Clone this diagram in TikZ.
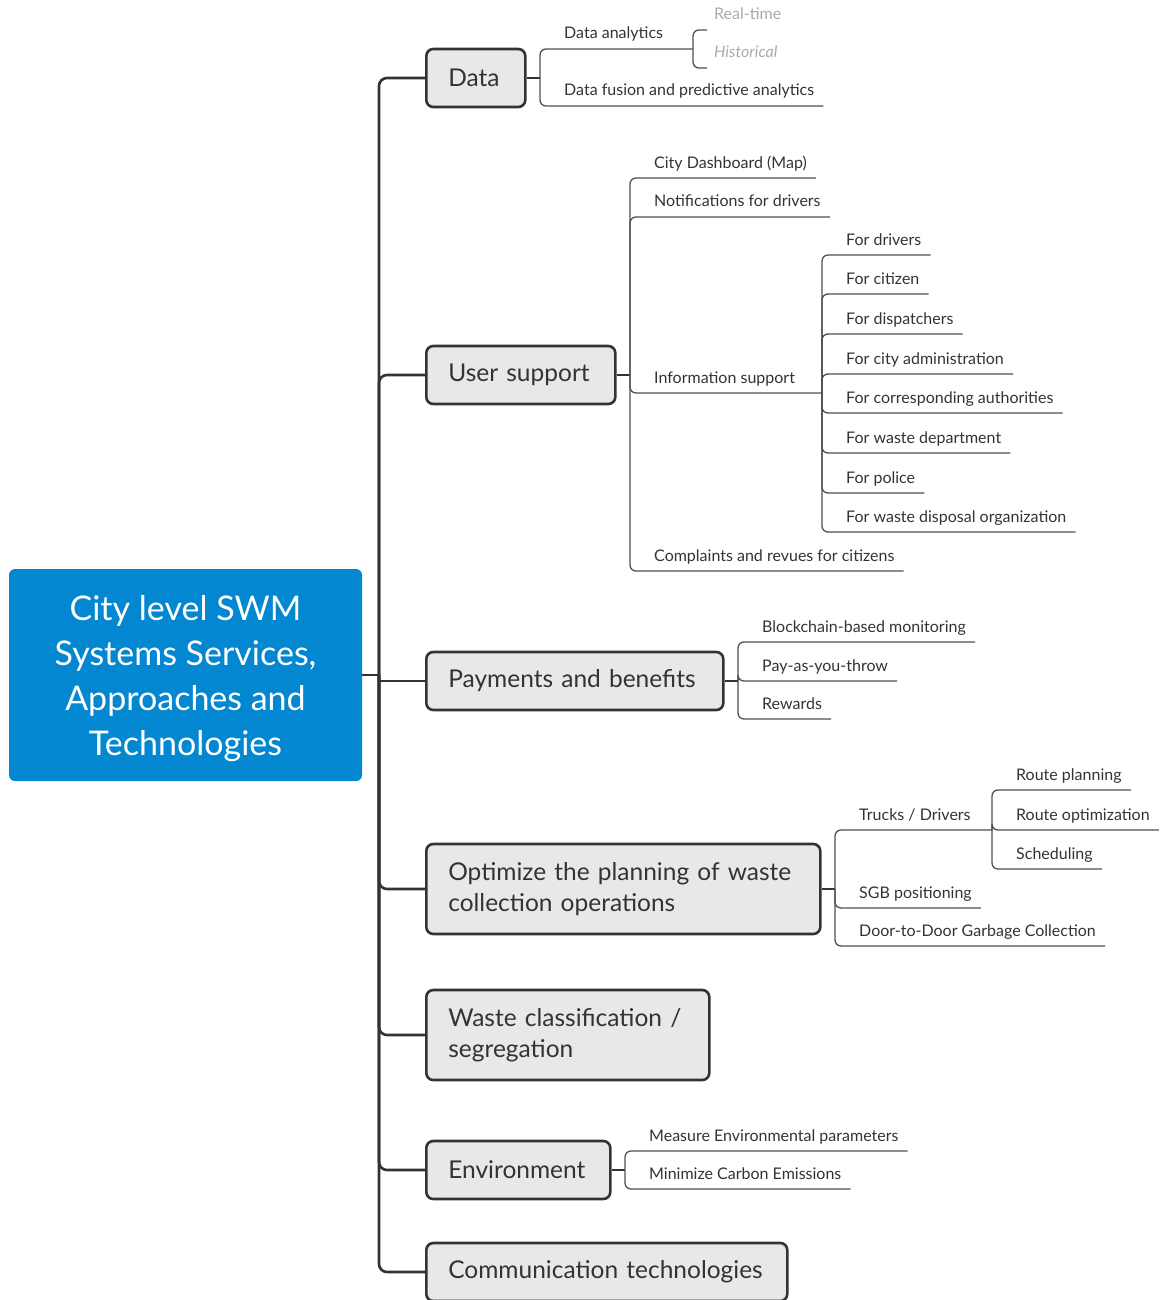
\documentclass[tikz,border=0pt]{standalone}
\usepackage{fontspec}
\setmainfont{Lato}
\usetikzlibrary{calc}
\definecolor{rootblue}{RGB}{3,135,209}
\definecolor{boxgray}{RGB}{232,232,232}
\definecolor{edge}{RGB}{51,51,51}
\definecolor{leafline}{RGB}{80,80,80}
\definecolor{txt}{RGB}{51,51,51}
\definecolor{ghost}{RGB}{170,170,170}
\begin{document}
\begin{tikzpicture}[x=1pt,y=-1pt,
 rootbox/.style={fill=rootblue, rounded corners=6pt, minimum width=353pt, minimum height=212pt, inner sep=0pt},
 roottext/.style={text=white, align=center, font=\fontsize{34}{45}\selectfont, inner sep=0pt},
 mainbox/.style={draw=edge, line width=2.6pt, fill=boxgray, rounded corners=7pt, anchor=west,
   text=txt, font=\fontsize{24.5}{31}\selectfont, inner xsep=22pt, align=left, minimum height=58pt},
 leaf/.style={anchor=base west, inner sep=0pt, text=txt, font=\fontsize{16}{18}\selectfont},
 ghostleaf/.style={leaf, text=ghost},
 trunk/.style={draw=edge, line width=2.6pt, rounded corners=8pt},
 stub/.style={draw=edge, line width=1.8pt},
 twig/.style={draw=leafline, line width=1.3pt, rounded corners=6pt},
]
\useasboundingbox (0,0) rectangle (1162,1300);

% root
\node[rootbox] (root) at (185.5,675) {};
\node[roottext] (rootlabel) at (185.5,679) {City level SWM\\Systems Services,\\Approaches and\\Technologies};
\coordinate (hub) at (379,675);
\draw[trunk] (root.east) -- (hub);

% main topics
\node[mainbox, text width=55pt] (data) at (425,78) {Data};
\node[mainbox, text width=145pt] (user) at (425,375) {User support};
\node[mainbox, text width=253pt] (pay) at (425,681) {Payments and benefits};
\node[mainbox, text width=350pt, minimum height=90pt] (opt) at (425,889) {Optimize the planning of waste\\collection operations};
\node[mainbox, text width=239pt, minimum height=90pt] (waste) at (425,1035) {Waste classification /\\segregation};
\node[mainbox, text width=140pt] (env) at (425,1170) {Environment};
\node[mainbox, text width=317pt] (comm) at (425,1272) {Communication technologies};

\foreach \n in {data,user,opt,waste,env,comm} \draw[trunk] (hub) |- (\n.west);
\draw[trunk, sharp corners] (hub) |- (pay.west);

% Data
\coordinate (data-b) at (540,78);
\draw[stub] (data.east) -- (data-b);
\node[leaf] (da) at (564,39) {Data analytics};
\coordinate (da-j) at (693,49);
\draw[twig] (data-b) |- (da-j);
\node[ghostleaf] (rt) at (714,20) {Real-time};
\node[ghostleaf, font=\fontsize{16}{18}\selectfont\itshape] (hist) at (714,58) {Historical};
\draw[twig] (da-j) |- ($(rt.base west)+(-7pt,-10pt)$);
\draw[twig] (da-j) |- ($(hist.base west)+(-7pt,-10pt)$);
\node[leaf] (dfa) at (564,96) {Data fusion and predictive analytics};
\draw[twig] (data-b) |- ($(dfa.base east)+(9pt,-10pt)$);

% User support
\coordinate (user-b) at (630,375);
\draw[stub] (user.east) -- (user-b);
\node[leaf] (cd) at (654,168) {City Dashboard (Map)};
\node[leaf] (nd) at (654,207) {Notifications for drivers};
\node[leaf] (is) at (654,383) {Information support};
\node[leaf] (cr) at (654,561) {Complaints and revues for citizens};
\coordinate (is-j) at (822,393);
\foreach \n in {cd,nd,cr} \draw[twig] (user-b) |- ($(\n.base east)+(9pt,-10pt)$);
\draw[twig] (user-b) |- (is-j);

\node[leaf] (i1) at (846,245) {For drivers};
\node[leaf] (i2) at (846,284) {For citizen};
\node[leaf] (i3) at (846,324) {For dispatchers};
\node[leaf] (i4) at (846,364) {For city administration};
\node[leaf] (i5) at (846,403) {For corresponding authorities};
\node[leaf] (i6) at (846,443) {For waste department};
\node[leaf] (i7) at (846,483) {For police};
\node[leaf] (i8) at (846,522) {For waste disposal organization};
\foreach \n in {i1,i2,i3,i4,i5,i6,i7,i8} \draw[twig] (is-j) |- ($(\n.base east)+(9pt,-10pt)$);

% Payments
\coordinate (pay-b) at (738,681);
\draw[stub] (pay.east) -- (pay-b);
\node[leaf] (p1) at (762,632) {Blockchain-based monitoring};
\node[leaf] (p2) at (762,671) {Pay-as-you-throw};
\node[leaf] (p3) at (762,709) {Rewards};
\foreach \n in {p1,p2,p3} \draw[twig] (pay-b) |- ($(\n.base east)+(9pt,-10pt)$);

% Optimize
\coordinate (opt-b) at (835,889);
\draw[stub] (opt.east) -- (opt-b);
\node[leaf] (td) at (859,820) {Trucks / Drivers};
\coordinate (td-j) at (992,830);
\draw[twig] (opt-b) |- (td-j);
\node[leaf] (sgb) at (859,898) {SGB positioning};
\node[leaf] (d2d) at (859,936) {Door-to-Door Garbage Collection};
\foreach \n in {sgb,d2d} \draw[twig] (opt-b) |- ($(\n.base east)+(9pt,-10pt)$);
\node[leaf] (rp) at (1016,780) {Route planning};
\node[leaf] (ro) at (1016,820) {Route optimization};
\node[leaf] (sc) at (1016,859) {Scheduling};
\foreach \n in {rp,ro,sc} \draw[twig] (td-j) |- ($(\n.base east)+(9pt,-10pt)$);

% Environment
\coordinate (env-b) at (625,1170);
\draw[stub] (env.east) -- (env-b);
\node[leaf] (e1) at (649,1141) {Measure Environmental parameters};
\node[leaf] (e2) at (649,1179) {Minimize Carbon Emissions};
\foreach \n in {e1,e2} \draw[twig] (env-b) |- ($(\n.base east)+(9pt,-10pt)$);
\end{tikzpicture}
\end{document}
